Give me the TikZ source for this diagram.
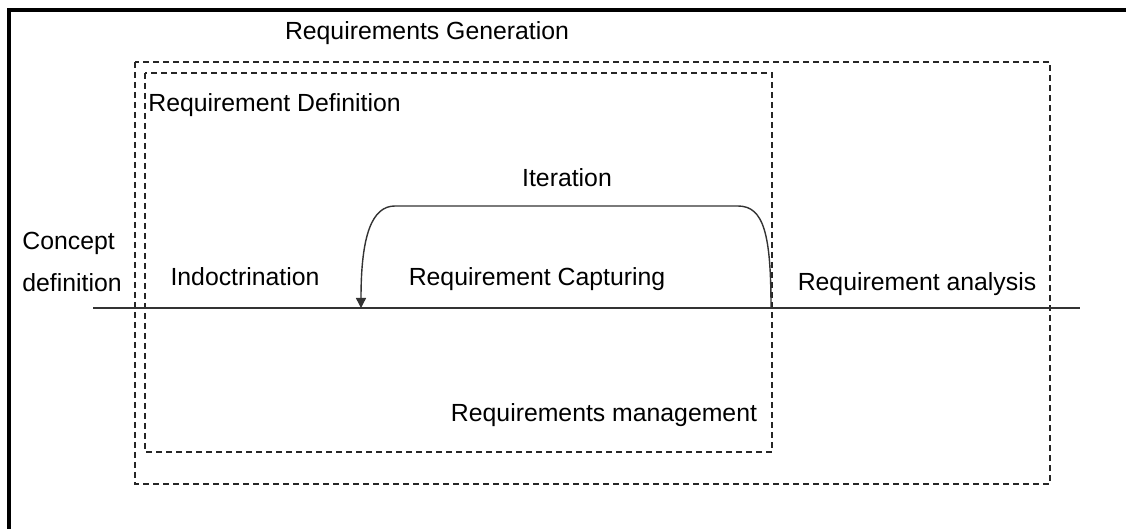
\documentclass[tikz,border=0pt]{standalone}
\usepackage{fontspec}
\setmainfont{Liberation Sans}
\usetikzlibrary{arrows.meta}
\begin{document}
\begin{tikzpicture}[x=0.5pt, y=-0.5pt, font=\fontsize{12.4}{15}\selectfont,
        phase/.style={draw=black!85, line width=0.65pt, dash pattern=on 3pt off 2pt},
        lbl/.style={inner sep=0pt, anchor=base}]
        \useasboundingbox (0,0) rectangle (1126,529);
        % frame, only the top and left edges are visible
        \draw[line width=1.6pt] (9,529) -- (9,10) -- (1126,10);
        % nested phases
        \draw[phase] (135,62) rectangle (1050,484);
        \draw[phase] (145,73) rectangle (772,452);
        % time line
        \coordinate (lineStart) at (93,308);
        \coordinate (lineEnd) at (1080,308);
        \draw[black!80, line width=0.6pt] (lineStart) -- (lineEnd);
        % iteration loop back to the start of capturing
        \coordinate (loopFrom) at (771,308);
        \coordinate (loopTo) at (361,308);
        \draw[black!80, line width=0.7pt, -{Triangle[length=5pt,width=5pt]}] (loopFrom)
             .. controls (771,235) and (764,206) .. (738,206) -- (395,206)
             .. controls (372,206) and (361,235) .. (loopTo);
        \node[lbl] (gen) at (427,40) {Requirements Generation};
        \node[lbl, anchor=base west] (def) at (148,112) {Requirement Definition};
        \node[lbl] (iter) at (567,187) {Iteration};
        \node[lbl, anchor=base west] (concept) at (22,250) {Concept};
        \node[lbl, anchor=base west] (conceptDef) at (22,292) {definition};
        \node[lbl] (indoc) at (245,286) {Indoctrination};
        \node[lbl] (capture) at (537,286) {Requirement Capturing};
        \node[lbl] (analysis) at (917,291) {Requirement analysis};
        \node[lbl] (manage) at (604,422) {Requirements management};
\end{tikzpicture}
\end{document}
